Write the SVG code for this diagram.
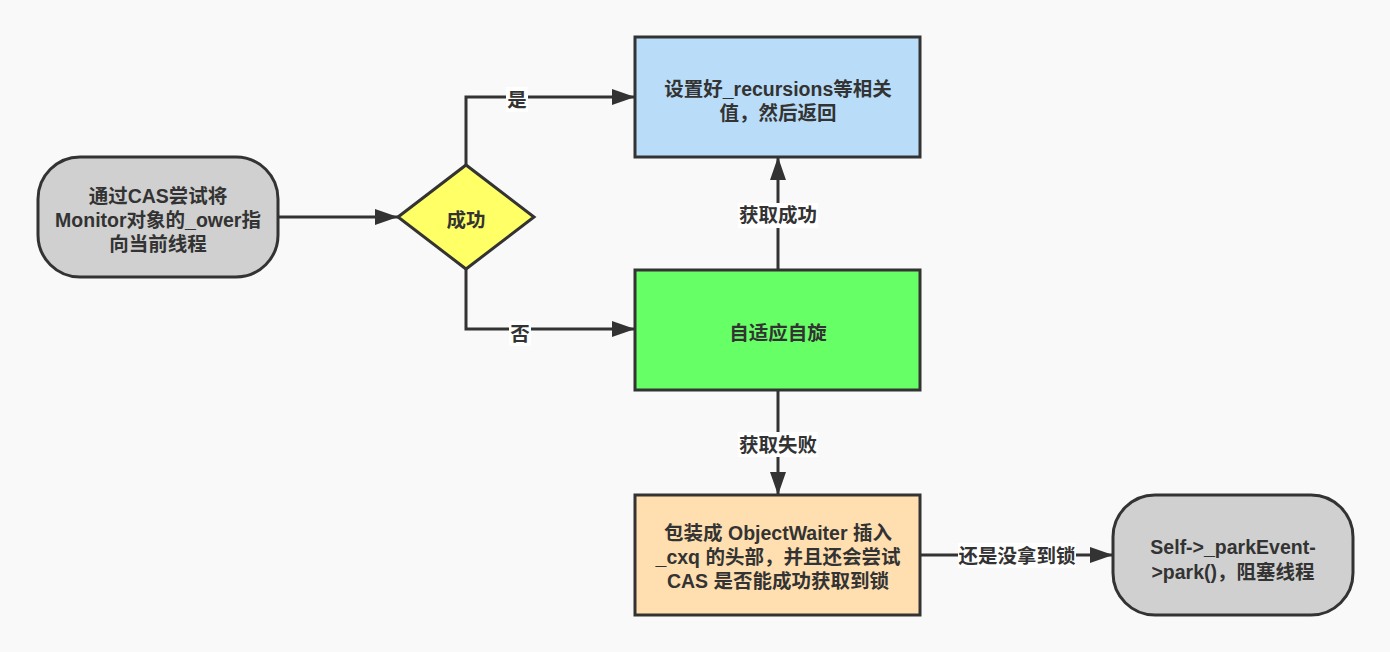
<svg xmlns="http://www.w3.org/2000/svg" width="1390" height="652" viewBox="0 0 1390 652">
<defs>
<style>
.t{font-family:"Liberation Sans","Noto Sans CJK SC",sans-serif;font-size:19.5px;font-weight:bold;fill:#333;text-anchor:middle;dominant-baseline:central}
.n{stroke:#333;stroke-width:3}
.e{fill:none;stroke:#333;stroke-width:3}
.lb{fill:#fff}
</style>
<marker id="a" markerUnits="userSpaceOnUse" markerWidth="24" markerHeight="18" refX="23" refY="8" orient="auto">
<path d="M0,0 L23,8 L0,16 Z" fill="#333"/>
</marker>
</defs>
<rect width="1390" height="652" fill="#f9f9f9"/>
<g id="connectors">
<path class="e" d="M278,217 H398" marker-end="url(#a)"/>
<path class="e" d="M466,165 V97 H635" marker-end="url(#a)"/>
<path class="e" d="M466,269 V329 H635" marker-end="url(#a)"/>
<path class="e" d="M778,270 V157" marker-end="url(#a)"/>
<path class="e" d="M778,390 V495" marker-end="url(#a)"/>
<path class="e" d="M921,555 H1113" marker-end="url(#a)"/>
<rect class="lb" x="506" y="87" width="22" height="25"/>
<text class="t" x="517" y="100">是</text>
<rect class="lb" x="509" y="321" width="22" height="25"/>
<text class="t" x="520" y="334">否</text>
<rect class="lb" x="738" y="203" width="80" height="25"/>
<text class="t" x="778" y="215">获取成功</text>
<rect class="lb" x="738" y="432" width="80" height="25"/>
<text class="t" x="778" y="445">获取失败</text>
<rect class="lb" x="958" y="543" width="118" height="25"/>
<text class="t" x="1017" y="556">还是没拿到锁</text>
</g>
<g id="start">
<rect class="n" x="38" y="157" width="240" height="120" rx="42" ry="42" fill="#d0d0d0"/>
<text class="t" x="158" y="196">通过CAS尝试将</text>
<text class="t" x="158" y="220">Monitor对象的_ower指</text>
<text class="t" x="158" y="244">向当前线程</text>
</g>
<g id="decision">
<polygon class="n" points="398,217 466,165 534,217 466,269" fill="#ffff66"/>
<text class="t" x="466" y="220">成功</text>
</g>
<g id="setRecursions">
<rect class="n" x="635" y="37" width="285" height="120" fill="#b9ddf9"/>
<text class="t" x="778" y="89">设置好_recursions等相关</text>
<text class="t" x="778" y="113">值，然后返回</text>
</g>
<g id="spin">
<rect class="n" x="635" y="270" width="285" height="120" fill="#66ff66"/>
<text class="t" x="778" y="333">自适应自旋</text>
</g>
<g id="wrap">
<rect class="n" x="635" y="495" width="285" height="120" fill="#ffdfb0"/>
<text class="t" x="778" y="533">包装成 ObjectWaiter 插入</text>
<text class="t" x="778" y="557">_cxq 的头部，并且还会尝试</text>
<text class="t" x="778" y="581">CAS 是否能成功获取到锁</text>
</g>
<g id="park">
<rect class="n" x="1113" y="495" width="240" height="120" rx="42" ry="42" fill="#d0d0d0"/>
<text class="t" x="1233" y="547">Self-&gt;_parkEvent-</text>
<text class="t" x="1233" y="572">&gt;park()，阻塞线程</text>
</g>
</svg>
